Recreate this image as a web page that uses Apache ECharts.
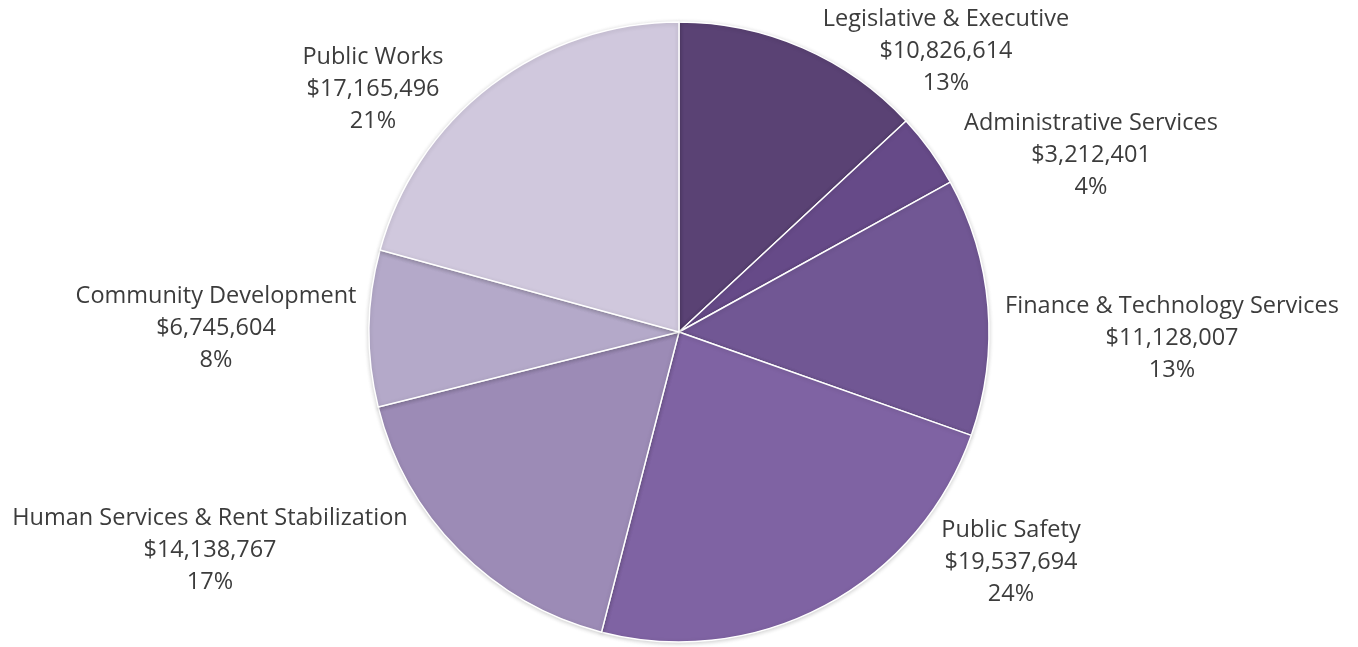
<!DOCTYPE html>
<html>
<head>
<meta charset="utf-8">
<title>General Fund Expenditures by Department</title>
<script src="https://cdn.jsdelivr.net/npm/echarts@6/dist/echarts.min.js"></script>
<style>
  html, body { margin: 0; padding: 0; background: #ffffff; }
  #chart { width: 1358px; height: 647px; }
</style>
</head>
<body>
<div id="chart"></div>
<script>
// Department budgets, clockwise from 12 o'clock
const departments = [
  'Legislative & Executive',
  'Administrative Services',
  'Finance & Technology Services',
  'Public Safety',
  'Human Services & Rent Stabilization',
  'Community Development',
  'Public Works'
];
const budgets = [10826614, 3212401, 11128007, 19537694, 14138767, 6745604, 17165496];

// Slice fills, dark to light purple
const sliceColors = ['#5a4274', '#664a88', '#715794', '#7f63a3', '#9c8bb6', '#b4a9c9', '#d0c8dd'];

// Centre of each label block (middle line), in pixels
const labelSpots = [
  [946, 51], [1091, 155], [1172, 338], [1011, 562],
  [210, 550], [216, 328], [373, 89]
];

const chart = echarts.init(document.getElementById('chart'), null, { renderer: 'canvas' });

const fmtMoney = v => '$' + v.toLocaleString('en-US');

chart.setOption({
  animation: false,
  backgroundColor: '#ffffff',
  series: [{
    type: 'pie',
    center: [679, 332],
    radius: [0, 310],
    startAngle: 90,
    clockwise: true,
    percentPrecision: 0,
    avoidLabelOverlap: false,
    itemStyle: {
      borderColor: '#ffffff',
      borderWidth: 1.5,
      shadowColor: 'rgba(0,0,0,0.18)',
      shadowBlur: 4,
      shadowOffsetY: 1
    },
    emphasis: { disabled: true },
    label: {
      show: true,
      position: 'outside',
      formatter: p => p.name + '\n' + fmtMoney(p.value) + '\n' + p.percent + '%',
      fontFamily: 'Open Sans',
      fontSize: 23.5,
      lineHeight: 32,
      color: '#3c3c3c',
      align: 'center'
    },
    labelLine: { show: false },
    labelLayout: p => ({
      x: labelSpots[p.dataIndex][0],
      y: labelSpots[p.dataIndex][1],
      align: 'center',
      verticalAlign: 'middle'
    }),
    data: departments.map((name, i) => ({
      name: name,
      value: budgets[i],
      itemStyle: { color: sliceColors[i] }
    }))
  }]
});
</script>
</body>
</html>
